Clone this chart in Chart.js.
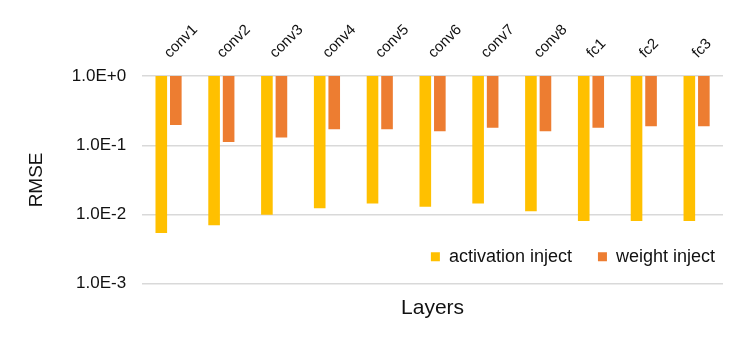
<!DOCTYPE html>
<html>
<head>
<meta charset="utf-8">
<script src="https://cdn.jsdelivr.net/npm/chart.js@4"></script>
<style>
  html, body { margin: 0; padding: 0; background: #fff; }
  #wrap { width: 747px; height: 340px; }
</style>
</head>
<body>
<div id="wrap"><canvas id="chart" width="747" height="340"></canvas></div>
<script>
// data
const layers = ['conv1', 'conv2', 'conv3', 'conv4', 'conv5', 'conv6', 'conv7', 'conv8', 'fc1', 'fc2', 'fc3'];
const activationInject = [0.0054, 0.0070, 0.0099, 0.0123, 0.0144, 0.0130, 0.0144, 0.0112, 0.0081, 0.0081, 0.0081];
const weightInject = [0.197, 0.112, 0.130, 0.170, 0.170, 0.160, 0.179, 0.160, 0.179, 0.189, 0.189];
const yTicks = [1, 0.1, 0.01, 0.001];

Chart.defaults.font.family = '"Liberation Sans", Arial, sans-serif';
Chart.defaults.color = '#111';

const LEGEND_PAD = 26;

// legend sits inside the plot, bottom right; it takes no space in the layout
const legendInPlot = {
  id: 'legendInPlot',
  beforeLayout(chart) {
    const lg = chart.legend;
    if (lg && !lg._inPlot) {
      const fit = lg.fit;
      lg.fit = function () {
        fit.call(this);
        this._realHeight = this.height;
        this.height = 0;
      };
      lg._inPlot = true;
    }
  },
  beforeDraw(chart) {
    const lg = chart.legend;
    const area = chart.chartArea;
    const h = lg._realHeight;
    lg.top = area.bottom - 26 - LEGEND_PAD - 10;
    lg.bottom = lg.top + h;
    lg.height = h;
    const w = lg.right - lg.left;
    lg.right = area.right - 8 + LEGEND_PAD;
    lg.left = lg.right - w;
  }
};

new Chart(document.getElementById('chart'), {
  type: 'bar',
  data: {
    labels: layers,
    datasets: [
      {
        label: 'activation inject',
        data: activationInject.map(v => [v, 1]),
        backgroundColor: '#FFC000'
      },
      {
        label: 'weight inject',
        data: weightInject.map(v => [v, 1]),
        backgroundColor: '#ED7D31'
      }
    ]
  },
  options: {
    responsive: false,
    animation: false,
    categoryPercentage: 0.55,
    barPercentage: 0.8,
    layout: { padding: { left: 21, right: 24, top: 15, bottom: 6 } },
    scales: {
      x: {
        position: 'top',
        grid: { display: false },
        border: { display: false },
        ticks: {
          minRotation: 45,
          maxRotation: 45,
          padding: 6,
          labelOffset: 11,
          font: { size: 15 }
        }
      },
      xTitle: {
        type: 'category',
        position: 'bottom',
        labels: layers,
        grid: { display: false },
        border: { display: false },
        ticks: { display: false },
        title: {
          display: true,
          text: 'Layers',
          font: { size: 21 },
          padding: { top: 4, bottom: 13 }
        }
      },
      y: {
        type: 'logarithmic',
        min: 0.001,
        max: 1,
        afterBuildTicks: axis => { axis.ticks = yTicks.map(v => ({ value: v })); },
        grid: { color: '#d9d9d9', lineWidth: 1.5, drawTicks: false },
        border: { display: false },
        ticks: {
          padding: 16,
          font: { size: 17 },
          callback: v => Number(v).toExponential(1).toUpperCase()
        },
        title: {
          display: true,
          text: 'RMSE',
          font: { size: 19 },
          padding: { bottom: 8 }
        }
      }
    },
    plugins: {
      legend: {
        position: 'bottom',
        align: 'end',
        labels: {
          boxWidth: 9,
          boxHeight: 9,
          padding: LEGEND_PAD,
          font: { size: 18 }
        }
      },
      tooltip: { enabled: false }
    }
  },
  plugins: [legendInPlot]
});
</script>
</body>
</html>
